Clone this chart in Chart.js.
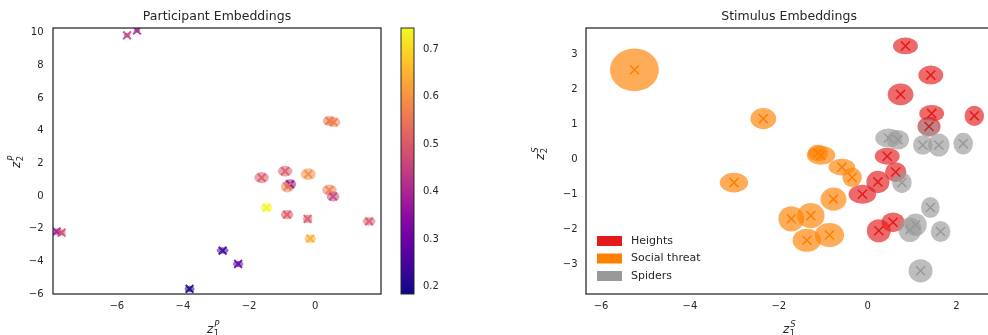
<!DOCTYPE html>
<html>
<head>
<meta charset="utf-8">
<script src="https://cdn.jsdelivr.net/npm/chart.js@4.4.0/dist/chart.umd.min.js"></script>
<style>
  html, body { margin:0; padding:0; background:#fff; overflow:hidden; }
  body { width:988px; height:335px; position:relative; }
  .panel { position:absolute; top:0; height:335px; }
</style>
</head>
<body>
<div class="panel" style="left:0;width:400px"><canvas id="chart-participants"></canvas></div>
<div class="panel" style="left:395px;width:60px"><canvas id="chart-colorbar"></canvas></div>
<div class="panel" style="left:520px;width:480px"><canvas id="chart-stimuli"></canvas></div>
<script>
// ---- Participant embeddings (left) ----
var participantX   = [-5.69, -5.39, -7.82, -7.67, 0.43, 0.56, -1.62, -0.91, -0.21, -0.76, -0.84, 0.43, 0.54, -1.47, -0.85, -0.23, 1.63, -0.15, -2.80, -2.33, -3.80];
var participantY   = [9.84, 10.14, -2.18, -2.24, 4.60, 4.52, 1.13, 1.52, 1.34, 0.72, 0.58, 0.37, -0.03, -0.71, -1.14, -1.40, -1.55, -2.61, -3.34, -4.16, -5.69];
var participantSx  = [0.10, 0.10, 0.12, 0.12, 0.20, 0.20, 0.22, 0.22, 0.23, 0.18, 0.20, 0.22, 0.19, 0.18, 0.19, 0.14, 0.19, 0.17, 0.18, 0.16, 0.15];
var participantSy  = [0.15, 0.15, 0.20, 0.20, 0.30, 0.30, 0.34, 0.33, 0.36, 0.30, 0.36, 0.33, 0.31, 0.25, 0.28, 0.25, 0.25, 0.25, 0.20, 0.20, 0.20];
var participantVal = [0.45, 0.40, 0.38, 0.475, 0.55, 0.575, 0.50, 0.50, 0.59, 0.35, 0.57, 0.56, 0.45, 0.74, 0.50, 0.50, 0.50, 0.64, 0.235, 0.28, 0.19];
var participantXTicks = [-6, -4, -2, 0];
var participantYTicks = [-6, -4, -2, 0, 2, 4, 6, 8, 10];

// colour bar
var colorbarMin = 0.185;
var colorbarMax = 0.744;
var colorbarTicks = [0.2, 0.3, 0.4, 0.5, 0.6, 0.7];

// ---- Stimulus embeddings (right) ----
var stimulusCategories = ['Heights', 'Social threat', 'Spiders'];

var heightsX  = [0.85, 1.42, 0.74, 1.44, 1.38, 2.40, 0.44, 0.63, 0.23, -0.12, 0.57, 0.25];
var heightsY  = [3.23, 2.40, 1.85, 1.31, 0.94, 1.24, 0.09, -0.36, -0.64, -0.99, -1.79, -2.03];
var heightsSx = [0.28, 0.28, 0.29, 0.28, 0.26, 0.22, 0.28, 0.24, 0.26, 0.31, 0.26, 0.27];
var heightsSy = [0.24, 0.27, 0.31, 0.24, 0.28, 0.29, 0.24, 0.28, 0.32, 0.27, 0.28, 0.33];

var socialX  = [-5.25, -2.35, -1.12, -1.05, -0.58, -0.35, -3.01, -0.77, -1.72, -1.28, -1.37, -0.86];
var socialY  = [2.55, 1.16, 0.18, 0.12, -0.22, -0.51, -0.66, -1.13, -1.69, -1.60, -2.30, -2.15];
var socialSx = [0.55, 0.29, 0.23, 0.32, 0.30, 0.22, 0.32, 0.29, 0.29, 0.31, 0.32, 0.33];
var socialSy = [0.61, 0.30, 0.24, 0.27, 0.24, 0.28, 0.28, 0.33, 0.36, 0.36, 0.33, 0.34];

var spidersX  = [0.47, 0.68, 1.24, 1.60, 2.15, 1.37, 0.77, 1.41, 1.08, 0.95, 1.64, 1.19];
var spidersY  = [0.61, 0.56, 0.41, 0.41, 0.45, 0.89, -0.66, -1.37, -1.86, -2.00, -2.05, -3.17];
var spidersSx = [0.30, 0.25, 0.22, 0.24, 0.22, 0.22, 0.22, 0.21, 0.25, 0.26, 0.22, 0.27];
var spidersSy = [0.27, 0.28, 0.28, 0.33, 0.31, 0.25, 0.30, 0.30, 0.32, 0.35, 0.30, 0.33];

var stimulusXTicks = [-6, -4, -2, 0, 2];
var stimulusYTicks = [-3, -2, -1, 0, 1, 2, 3];

// ---- styling helpers ----
var TEXT = '#262626';
var FONT = '"DejaVu Sans", sans-serif';
var CAT_RGB = ['228,26,28', '255,127,0', '153,153,153'];
var PLASMA = ['#0d0887', '#41049d', '#6a00a8', '#8f0da4', '#b12a90', '#cc4778',
              '#e16462', '#f2844b', '#fca636', '#fcce25', '#f0f921'];

function hexRgb(h) {
  return [parseInt(h.substr(1, 2), 16), parseInt(h.substr(3, 2), 16), parseInt(h.substr(5, 2), 16)];
}

function plasma(t, alpha) {
  t = Math.max(0, Math.min(1, t));
  var p = t * 10, i = Math.min(9, Math.floor(p)), f = p - i;
  var a = hexRgb(PLASMA[i]), b = hexRgb(PLASMA[i + 1]);
  var c = [0, 1, 2].map(function (k) { return Math.round(a[k] + (b[k] - a[k]) * f); });
  return 'rgba(' + c.join(',') + ',' + alpha + ')';
}

function valueColor(v, alpha) {
  return plasma((v - colorbarMin) / (colorbarMax - colorbarMin), alpha);
}

function points(xs, ys) {
  return xs.map(function (x, i) { return { x: x, y: ys[i] }; });
}

function axisOpts(min, max, ticks, fitKey, fitSize, pad) {
  return {
    type: 'linear', min: min, max: max,
    grid: { display: false, drawTicks: false },
    border: { display: false },
    afterBuildTicks: function (s) { s.ticks = ticks.map(function (v) { return { value: v }; }); },
    afterFit: function (s) { s[fitKey] = fitSize; },
    ticks: {
      color: TEXT, padding: pad, font: { family: FONT, size: 10 },
      callback: function (v) { return String(v).replace('-', '\u2212'); }
    }
  };
}

// z with a subscript index and a superscript letter, like matplotlib mathtext
function mathLabel(ctx, x, y, sub, sup, rotate) {
  ctx.save();
  ctx.translate(x, y);
  if (rotate) ctx.rotate(-Math.PI / 2);
  ctx.fillStyle = TEXT;
  ctx.textAlign = 'left';
  ctx.textBaseline = 'alphabetic';
  ctx.font = 'italic 12px ' + FONT;
  ctx.fillText('z', 0, 0);
  var w = ctx.measureText('z').width;
  ctx.font = '8.5px ' + FONT;
  ctx.fillText(sub, w + 0.5, 3);
  ctx.font = 'italic 8.5px ' + FONT;
  ctx.fillText(sup, w + 1, -6);
  ctx.restore();
}

function ellipsePlugin(sets) {
  return {
    id: 'ellipses',
    beforeDatasetsDraw: function (chart) {
      var xs = chart.scales.x, ys = chart.scales.y, ctx = chart.ctx, ca = chart.chartArea;
      ctx.save();
      ctx.beginPath();
      ctx.rect(ca.left, ca.top, ca.width, ca.height);
      ctx.clip();
      sets.forEach(function (s) {
        for (var i = 0; i < s.x.length; i++) {
          var cx = xs.getPixelForValue(s.x[i]), cy = ys.getPixelForValue(s.y[i]);
          var rx = Math.abs(xs.getPixelForValue(s.x[i] + s.sx[i]) - cx);
          var ry = Math.abs(ys.getPixelForValue(s.y[i] + s.sy[i]) - cy);
          ctx.fillStyle = s.color(i);
          ctx.beginPath();
          ctx.ellipse(cx, cy, rx, ry, 0, 0, Math.PI * 2);
          ctx.fill();
        }
      });
      ctx.restore();
    }
  };
}

function framePlugin(title, lab) {
  return {
    id: 'frame',
    afterDraw: function (chart) {
      var ctx = chart.ctx, ca = chart.chartArea;
      ctx.save();
      ctx.strokeStyle = TEXT;
      ctx.lineWidth = 1.25;
      ctx.strokeRect(ca.left, ca.top, ca.width, ca.height);
      ctx.fillStyle = TEXT;
      ctx.font = '12.5px ' + FONT;
      ctx.textAlign = 'center';
      ctx.textBaseline = 'alphabetic';
      ctx.fillText(title, (ca.left + ca.right) / 2, 19.5);
      ctx.restore();
      mathLabel(ctx, lab.x[0], lab.x[1], lab.xSub, lab.xSup, false);
      mathLabel(ctx, lab.y[0], lab.y[1], lab.ySub, lab.ySup, true);
    }
  };
}

var baseOptions = function (padding, scales) {
  return {
    responsive: true, maintainAspectRatio: false, animation: false, events: [],
    layout: { padding: padding },
    plugins: { legend: { display: false }, tooltip: { enabled: false } },
    scales: scales
  };
};

// ---- left chart ----
new Chart(document.getElementById('chart-participants'), {
  type: 'scatter',
  data: {
    datasets: [{
      data: points(participantX, participantY),
      pointStyle: 'crossRot', pointRadius: 5.5, pointBorderWidth: 2,
      pointBorderColor: participantVal.map(function (v) { return valueColor(v, 0.85); }),
      pointBackgroundColor: 'transparent', clip: 0
    }]
  },
  options: baseOptions({ top: 28, right: 19, left: 0, bottom: 0 }, {
    x: axisOpts(-7.93, 1.99, participantXTicks, 'height', 41, 6),
    y: axisOpts(-6, 10.29, participantYTicks, 'width', 53, 9.5)
  }),
  plugins: [
    ellipsePlugin([{ x: participantX, y: participantY, sx: participantSx, sy: participantSy,
      color: function (i) { return valueColor(participantVal[i], 0.55); } }]),
    framePlugin('Participant Embeddings', { x: [207, 333], y: [19.5, 168], xSub: '1', xSup: 'P', ySub: '2', ySup: 'P' })
  ]
});

// ---- colour bar ----
new Chart(document.getElementById('chart-colorbar'), {
  type: 'bar',
  data: {
    labels: [''],
    datasets: [{
      data: [[colorbarMin, colorbarMax]],
      barPercentage: 1, categoryPercentage: 1, borderWidth: 0,
      backgroundColor: function (c) {
        var ca = c.chart.chartArea;
        if (!ca) return 'transparent';
        var g = c.chart.ctx.createLinearGradient(0, ca.bottom, 0, ca.top);
        PLASMA.forEach(function (col, i) { g.addColorStop(i / 10, col); });
        return g;
      }
    }]
  },
  options: baseOptions({ top: 28, right: 0, left: 6, bottom: 41 }, {
    x: { display: false },
    y: Object.assign(axisOpts(colorbarMin, colorbarMax, colorbarTicks, 'width', 41, 9), { position: 'right' })
  }),
  plugins: [{
    id: 'cbframe',
    afterDraw: function (chart) {
      var ca = chart.chartArea, ctx = chart.ctx;
      ctx.save();
      ctx.strokeStyle = TEXT;
      ctx.lineWidth = 1;
      ctx.strokeRect(ca.left, ca.top, ca.width, ca.height);
      ctx.restore();
    }
  }]
});

// ---- right chart ----
var catX = [heightsX, socialX, spidersX];
var catY = [heightsY, socialY, spidersY];
var catSx = [heightsSx, socialSx, spidersSx];
var catSy = [heightsSy, socialSy, spidersSy];

new Chart(document.getElementById('chart-stimuli'), {
  type: 'scatter',
  data: {
    datasets: stimulusCategories.map(function (name, k) {
      return {
        label: name,
        data: points(catX[k], catY[k]),
        pointStyle: 'crossRot', pointRadius: 6.4, pointBorderWidth: 1.5,
        pointBorderColor: 'rgb(' + CAT_RGB[k] + ')',
        pointBackgroundColor: 'transparent', clip: 0
      };
    })
  },
  options: baseOptions({ top: 28, right: 6, left: 0, bottom: 0 }, {
    x: axisOpts(-6.34, 2.80, stimulusXTicks, 'height', 41, 6),
    y: axisOpts(-3.83, 3.74, stimulusYTicks, 'width', 66, 8.5)
  }),
  plugins: [
    ellipsePlugin(stimulusCategories.map(function (name, k) {
      return { x: catX[k], y: catY[k], sx: catSx[k], sy: catSy[k],
        color: function () { return 'rgba(' + CAT_RGB[k] + ',0.65)'; } };
    })),
    framePlugin('Stimulus Embeddings', { x: [263, 333], y: [24, 160], xSub: '1', xSup: 'S', ySub: '2', ySup: 'S' }),
    {
      id: 'catLegend',
      afterDraw: function (chart) {
        var ctx = chart.ctx, ca = chart.chartArea;
        ctx.save();
        ctx.font = '11px ' + FONT;
        ctx.textAlign = 'left';
        ctx.textBaseline = 'middle';
        stimulusCategories.forEach(function (name, k) {
          var cy = ca.bottom - 18 - (2 - k) * 17.5;
          ctx.fillStyle = 'rgb(' + CAT_RGB[k] + ')';
          ctx.fillRect(ca.left + 11, cy - 5, 25, 10);
          ctx.fillStyle = TEXT;
          ctx.fillText(name, ca.left + 45, cy);
        });
        ctx.restore();
      }
    }
  ]
});
</script>
</body>
</html>
